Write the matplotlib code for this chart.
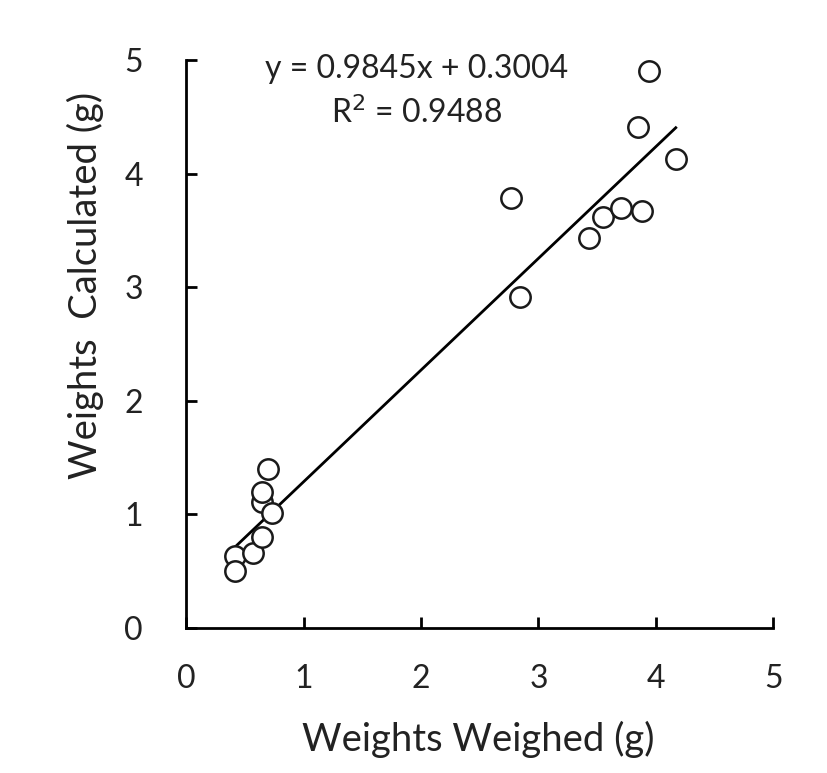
import numpy as np
import matplotlib.pyplot as plt

# measured weights vs calculated weights (g)
weighed = [0.42, 0.42, 0.57, 0.65, 0.65, 0.65, 0.70, 0.73,
           2.77, 2.84, 3.43, 3.55, 3.70, 3.85, 3.88, 3.94, 4.17]
calculated = [0.63, 0.50, 0.66, 0.80, 1.11, 1.20, 1.40, 1.01,
              3.79, 2.91, 3.43, 3.62, 3.70, 4.41, 3.67, 4.91, 4.13]

# linear fit reported on the chart
slope = 0.9845
intercept = 0.3004
r2 = 0.9488

plt.rcParams['font.family'] = ['Lato', 'DejaVu Sans']

fig = plt.figure(figsize=(8.27, 7.73), dpi=100)
ax = fig.add_axes([0.225, 0.188, 0.71, 0.734])

ax.scatter(weighed, calculated, s=215, facecolors='white', edgecolors='#1a1a1a',
           linewidths=1.8, zorder=3)

xs = np.array([min(weighed), max(weighed)])
ax.plot(xs, slope * xs + intercept, color='black', lw=2, zorder=2)

ax.set_xlim(0, 5)
ax.set_ylim(0, 5)
ax.set_xticks(range(6))
ax.set_yticks(range(6))
ax.spines['top'].set_visible(False)
ax.spines['right'].set_visible(False)
ax.spines['left'].set_linewidth(2)
ax.spines['bottom'].set_linewidth(2)
ax.tick_params(direction='in', length=8, width=2, labelsize=23, colors='black')
ax.tick_params(axis='x', pad=26)
ax.tick_params(axis='y', pad=31)
for lab in ax.get_xticklabels() + ax.get_yticklabels():
    lab.set_color('#222222')

ax.set_xlabel('Weights Weighed (g)', fontsize=27.5, color='#222222')
ax.set_ylabel('Weights  Calculated (g)', fontsize=27.5, color='#222222')
ax.xaxis.set_label_coords(0.497, -0.165)
ax.yaxis.set_label_coords(-0.14, 0.604)

ax.text(0.392, 0.985, 'y = %.4fx + %.4f' % (slope, intercept), transform=ax.transAxes,
        ha='center', va='center', fontsize=23, color='#222222')
ax.text(0.392, 0.907, 'R$^2$ = %.4f' % r2, transform=ax.transAxes,
        ha='center', va='center', fontsize=23, color='#222222')

plt.savefig('out.png', dpi=100)
